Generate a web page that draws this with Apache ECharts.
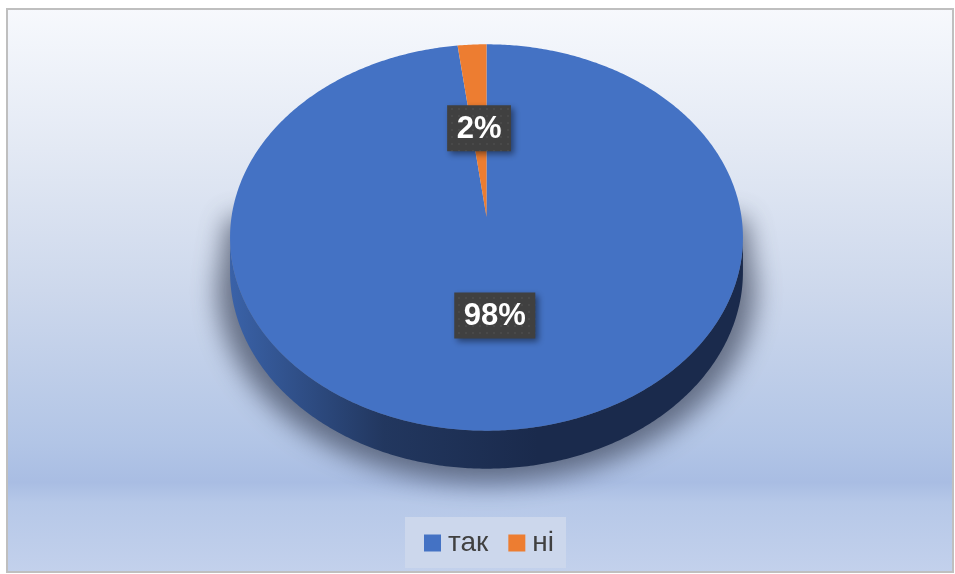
<!DOCTYPE html>
<html>
<head>
<meta charset="utf-8">
<script src="https://cdn.jsdelivr.net/npm/echarts@6/dist/echarts.min.js"></script>
<style>
  html, body { margin: 0; padding: 0; background: #fff; }
  #main { width: 955px; height: 574px; }
</style>
</head>
<body>
<div id="main"></div>
<script>
// 数据
const categories = ['так', 'ні']
const values = [98, 2]
const sliceColors = ['#4472c4', '#ed7d31']
const sideColors = [['#3a62a8', '#22375f', '#1a2a4c'], ['#b85f22', '#7a3e15', '#5f3010']]

const chart = echarts.init(document.getElementById('main'))

// 倾斜饼图的几何参数
const cx = 486.5, cy = 217, rx = 255, ry = 191, k = 0.106, depth = 34
const total = values.reduce((a, b) => a + b, 0)
const thR = Math.acos(-k)
const thL = Math.PI * 2 - thR

function pers(theta, r) {
  return 1 / (1 + k * Math.cos(theta) * r)
}
function proj(theta, r) {
  const p = pers(theta, r)
  return [cx + rx * Math.sin(theta) * r * p, cy - ry * Math.cos(theta) * r * p]
}
function projLow(theta) {
  const pt = proj(theta, 1)
  return [pt[0], pt[1] + depth * pers(theta, 1)]
}
function arc(a0, a1, fn) {
  const pts = []
  const n = Math.max(2, Math.ceil((a1 - a0) / 0.01))
  for (let j = 0; j <= n; j++) pts.push(fn(a0 + (a1 - a0) * j / n))
  return pts
}

// 标签背景的点状图案
const dot = document.createElement('canvas')
dot.width = dot.height = 7
const g = dot.getContext('2d')
g.fillStyle = '#404040'
g.fillRect(0, 0, 7, 7)
g.fillStyle = '#494949'
g.fillRect(3, 3, 2, 2)
const measure = document.createElement('canvas').getContext('2d')
const labelFont = 'bold 31px "Liberation Sans", Arial, sans-serif'
measure.font = labelFont

const renderItem = function (params, api) {
  const i = params.dataIndex
  let before = 0
  for (let j = 0; j < i; j++) before += values[j]
  const start = before / total * Math.PI * 2
  const end = (before + api.value(0)) / total * Math.PI * 2
  const children = []

  // 阴影 (只画模糊的影子，形状本身移出画面)
  if (i === 0) {
    const pL = proj(thL, 1), pR = proj(thR, 1)
    const front = arc(thR, thL, projLow).map(p => [cx + (p[0] - cx) * 1.05, p[1] + 14])
    const pts = [[cx + (pR[0] - cx) * 1.01, pR[1] - 20]].concat(front)
    pts.push([cx + (pL[0] - cx) * 1.01, pL[1] - 20])
    children.push({
      type: 'polygon',
      shape: { points: pts.map(p => [p[0] - 2000, p[1]]) },
      style: {
        fill: '#000',
        shadowBlur: 26,
        shadowOffsetX: 2000,
        shadowColor: 'rgba(60,68,90,0.7)'
      }
    })
  }

  // 侧面
  const a0 = Math.max(start, thR), a1 = Math.min(end, thL)
  if (a1 > a0) {
    const top = arc(a0, a1, t => proj(t, 1))
    const low = arc(a0, a1, projLow).reverse()
    const sc = sideColors[i]
    children.push({
      type: 'polygon',
      shape: { points: top.concat(low) },
      style: {
        fill: new echarts.graphic.LinearGradient(0, 0, 1, 0, [
          { offset: 0, color: sc[0] },
          { offset: 0.3, color: sc[1] },
          { offset: 0.6, color: sc[2] },
          { offset: 1, color: sc[2] }
        ])
      }
    })
  }

  // 顶面
  const face = [[cx, cy]].concat(arc(start, end, t => proj(t, 1)))
  children.push({
    type: 'polygon',
    shape: { points: face },
    style: { fill: sliceColors[i] }
  })

  // 百分比标签
  const pct = Math.round(api.value(0) / total * 100) + '%'
  const mid = (start + end) / 2
  const c = proj(mid, 0.49)
  const w = measure.measureText(pct).width + 19
  const h = 46
  children.push({
    type: 'rect',
    z2: 100,
    shape: { x: c[0] - w / 2, y: c[1] - h / 2, width: w, height: h },
    style: {
      fill: { image: dot, repeat: 'repeat' },
      shadowBlur: 6,
      shadowOffsetX: 3,
      shadowOffsetY: 3,
      shadowColor: 'rgba(0,0,0,0.45)'
    }
  })
  children.push({
    type: 'text',
    z2: 101,
    style: {
      text: pct,
      x: c[0],
      y: c[1] + 1,
      fill: '#ffffff',
      font: labelFont,
      align: 'center',
      verticalAlign: 'middle'
    }
  })

  return { type: 'group', children }
}

const option = {
  backgroundColor: '#ffffff',
  animation: false,
  graphic: [
    {
      type: 'rect',
      z: -10,
      silent: true,
      shape: { x: 7, y: 9, width: 946, height: 563 },
      style: {
        fill: new echarts.graphic.LinearGradient(0, 0, 0, 1, [
          { offset: 0, color: '#f7f9fd' },
          { offset: 0.25, color: '#e3e9f4' },
          { offset: 0.5, color: '#cdd8ec' },
          { offset: 0.77, color: '#b2c5e6' },
          { offset: 0.84, color: '#a9bde3' },
          { offset: 0.875, color: '#b6c8e8' },
          { offset: 1, color: '#c3d1ec' }
        ]),
        stroke: '#bfbfbf',
        lineWidth: 2
      }
    }
  ],
  legend: {
    left: 405,
    top: 517,
    data: categories,
    selectedMode: false,
    icon: 'rect',
    itemWidth: 17,
    itemHeight: 17,
    itemGap: 20,
    padding: [12, 12, 11, 19],
    backgroundColor: '#ccd7ec',
    textStyle: {
      fontSize: 28,
      color: '#404040',
      fontFamily: '"Liberation Sans", Arial, sans-serif',
      padding: [0, 0, 0, 2]
    }
  },
  series: [
    {
      type: 'custom',
      coordinateSystem: 'none',
      renderItem: renderItem,
      data: values.map((v, i) => ({ name: categories[i], value: v }))
    },
    {
      // 只用于图例
      type: 'pie',
      silent: true,
      radius: [0, 0],
      label: { show: false },
      labelLine: { show: false },
      data: values.map((v, i) => ({ name: categories[i], value: v, itemStyle: { color: sliceColors[i] } }))
    }
  ]
}

chart.setOption(option)
</script>
</body>
</html>
